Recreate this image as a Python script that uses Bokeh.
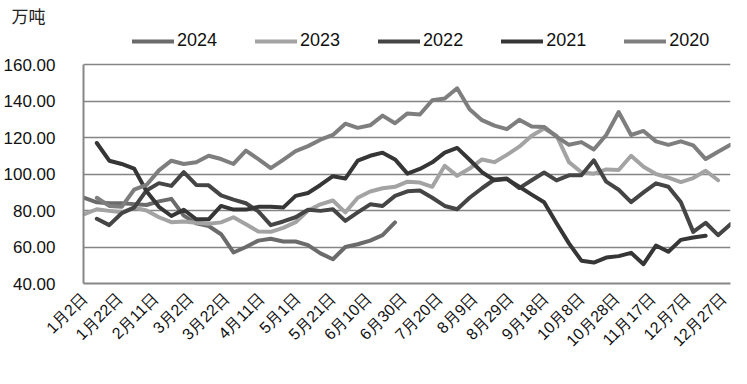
import math
from bokeh.plotting import figure
from bokeh.models import Legend, LegendItem, Title, FixedTicker, PrintfTickFormatter, Range1d
from bokeh.embed import file_html
from bokeh.resources import INLINE

# ---- data ----
tick_days = list(range(0, 361, 20))
tick_labels = ["1月2日", "1月22日", "2月11日", "3月2日", "3月22日", "4月11日", "5月1日",
               "5月21日", "6月10日", "6月30日", "7月20日", "8月9日", "8月29日", "9月18日",
               "10月8日", "10月28日", "11月17日", "12月7日", "12月27日"]
y_ticks = [40, 60, 80, 100, 120, 140, 160]

start_2024 = 0
v2024 = [86.9, 84.5, 84.0, 84.0, 83.5, 83.0, 85.0, 86.4, 77.2, 73.0, 71.5, 67.0, 57.0,
         60.0, 63.5, 64.5, 63.0, 63.0, 61.0, 56.5, 53.3, 60.0, 61.5, 63.5, 66.5, 73.5]

start_2023 = 0
v2023 = [78.0, 80.7, 79.8, 79.0, 81.6, 80.0, 76.3, 73.6, 74.0, 73.3, 72.8, 73.5, 76.3,
         72.5, 68.5, 68.3, 70.5, 73.6, 80.0, 83.4, 85.5, 79.0, 87.0, 90.4, 92.2, 93.0,
         95.8, 95.3, 93.0, 104.5, 99.0, 103.0, 108.0, 106.5, 110.5, 115.0, 121.0, 125.0,
         121.0, 106.5, 101.0, 100.2, 102.5, 102.2, 110.0, 104.0, 100.0, 98.0, 95.6, 97.8,
         101.8, 96.6]

start_2022 = 7
v2022 = [75.5, 72.0, 78.5, 81.6, 91.0, 95.0, 93.5, 101.0, 94.0, 93.8, 88.3, 86.0, 84.0,
         79.5, 72.0, 74.0, 76.3, 80.4, 79.8, 80.7, 74.3, 79.0, 83.4, 82.5, 88.0, 90.5,
         91.0, 87.0, 82.5, 80.7, 87.0, 92.2, 97.0, 97.5, 92.3, 96.6, 100.8, 96.5, 99.3,
         99.3, 107.5, 95.8, 91.4, 84.6, 89.9, 94.9, 93.0, 84.6, 68.3, 73.3, 66.5, 72.5]

start_2021 = 7
v2021 = [117.0, 107.3, 105.5, 103.0, 90.5, 82.0, 77.0, 80.4, 75.2, 75.2, 82.5, 80.5,
         80.5, 82.0, 82.0, 81.6, 88.0, 89.6, 94.0, 98.8, 97.5, 107.3, 110.0, 111.7, 108.0,
         100.2, 102.8, 106.4, 111.7, 114.3, 107.8, 101.0, 96.6, 97.2, 93.0, 88.7, 84.5,
         73.0, 62.0, 52.5, 51.5, 54.2, 55.0, 56.8, 50.6, 60.8, 57.4, 63.9, 65.2, 66.2]

start_2020 = 7
v2020 = [87.0, 82.5, 82.0, 91.4, 94.0, 102.0, 107.3, 105.5, 106.4, 110.0, 108.2, 105.5,
         112.8, 108.2, 103.2, 107.8, 112.6, 115.3, 118.8, 121.4, 127.6, 125.3, 126.7,
         132.0, 127.8, 133.2, 132.6, 140.4, 141.4, 147.0, 135.5, 129.5, 126.5, 124.6,
         129.7, 126.0, 125.8, 120.5, 116.0, 117.5, 113.4, 121.4, 134.0, 121.4, 123.6,
         117.9, 116.0, 117.9, 115.7, 108.2, 112.2, 116.0]

series = [
    ("2024", start_2024, v2024, "#6b6b6b"),
    ("2023", start_2023, v2023, "#a3a3a3"),
    ("2022", start_2022, v2022, "#454545"),
    ("2021", start_2021, v2021, "#363636"),
    ("2020", start_2020, v2020, "#7e7e7e"),
]

p = figure(width=731, height=368, output_backend="svg", toolbar_location=None,
           x_range=Range1d(-0.5, 364), y_range=Range1d(40, 180.3),
           min_border_left=76, min_border_right=1, min_border_top=22, min_border_bottom=85)
p.outline_line_color = None
p.background_fill_color = "white"

renderers = {}
for name, start, vals, color in series:
    xs = [start + 7 * i for i in range(len(vals))]
    r = p.line(xs, vals, line_color=color, line_width=4, line_join="round", line_cap="round")
    renderers[name] = r

# axes
p.xaxis.ticker = FixedTicker(ticks=tick_days)
p.xaxis.major_label_overrides = {d: lab for d, lab in zip(tick_days, tick_labels)}
p.xaxis.major_label_orientation = math.pi / 4
p.xaxis.major_label_text_font = "Liberation Sans"
p.xaxis.major_label_text_font_size = "16px"
p.xaxis.major_label_text_color = "#111111"
p.xaxis.major_label_standoff = 6

p.yaxis.ticker = FixedTicker(ticks=y_ticks)
p.yaxis.bounds = (y_ticks[0], y_ticks[-1])
p.yaxis.formatter = PrintfTickFormatter(format="%.2f")
p.yaxis.major_label_text_font = "Liberation Sans"
p.yaxis.major_label_text_font_size = "17px"
p.yaxis.major_label_text_color = "#111111"
p.yaxis.major_label_standoff = 22

for ax in (p.xaxis[0], p.yaxis[0]):
    ax.axis_line_color = "#868686"
    ax.axis_line_width = 2
    ax.major_tick_line_color = None
    ax.minor_tick_line_color = None

p.xgrid.grid_line_color = None
p.ygrid.grid_line_color = "#858585"
p.ygrid.grid_line_width = 1.6

legend = Legend(items=[LegendItem(label=n, renderers=[renderers[n]]) for n, _, _, _ in series],
                orientation="horizontal", location=(49, 232),
                glyph_width=42, glyph_height=20, label_height=20, label_standoff=3,
                spacing=38, padding=0, margin=0, border_line_color=None,
                background_fill_alpha=0, label_text_font="Liberation Sans",
                label_text_font_size="18px", label_text_color="#111111")
p.add_layout(legend, "center")

unit = Title(text="万吨", align="left", offset=-72, standoff=0,
             text_font="Noto Sans CJK SC", text_font_size="17px", text_color="#222222",
             text_font_style="normal")
p.add_layout(unit, "above")

open("out.html", "w").write(file_html(p, INLINE))
